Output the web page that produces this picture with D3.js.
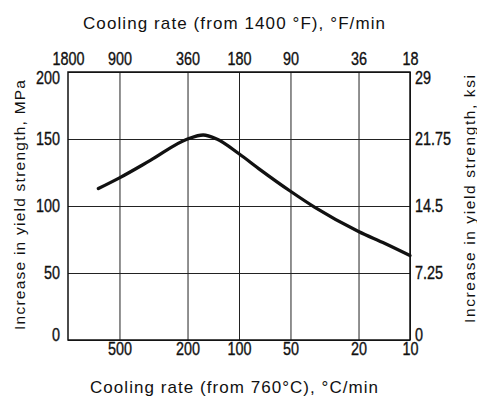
<!DOCTYPE html>
<html>
<head>
<meta charset="utf-8">
<script src="https://cdn.jsdelivr.net/npm/d3@7"></script>
<style>
  body { margin: 0; background: #fff; }
  .tick text { font-family: "Liberation Sans", Arial, sans-serif; font-size: 18px; fill: #111; stroke: #111; stroke-width: 0.35px; }
  .title { font-family: "Liberation Sans", Arial, sans-serif; font-size: 17px; fill: #111; }
  .vtitle { font-family: "Liberation Sans", Arial, sans-serif; font-size: 15.5px; fill: #111; }
</style>
</head>
<body>
<div id="chart"></div>
<script>
// cooling rate, °C/min (bottom) and increase in yield strength, MPa
const rateC = [665, 500, 330, 200, 162, 135, 100, 75, 50, 36, 20, 14, 10];
const strength = [113, 121, 134, 150, 153, 150, 139, 127, 111, 99, 81, 72, 63];

const bottomTicks = [500, 200, 100, 50, 20, 10];
const topTicks = [1800, 900, 360, 180, 90, 36, 18];
const leftTicks = [0, 50, 100, 150, 200];
const rightTicks = [0, 7.25, 14.5, 21.75, 29];

const width = 477, height = 398;
const plot = { left: 68, right: 410, top: 72, bottom: 340 };
const narrow = 0.8; // horizontal squeeze for the condensed tick font

const svg = d3.select('#chart').append('svg')
  .attr('width', width)
  .attr('height', height);

const x = d3.scaleLog().domain([1000, 10]).range([plot.left, plot.right]);
const xF = d3.scaleLog().domain([1800, 18]).range([plot.left, plot.right]);
const y = d3.scaleLinear().domain([0, 200]).range([plot.bottom, plot.top]);
const yK = d3.scaleLinear().domain([0, 29]).range([plot.bottom, plot.top]);

// labels at the ends of the vertical axes sit a little inside the frame
function nudge(v, scale) {
  const p = scale(v);
  if (p - plot.top < 6) return 6 - (p - plot.top);
  if (plot.bottom - p < 6) return -5;
  return 0;
}

// bottom axis, ticks double as vertical grid
const gx = svg.append('g')
  .attr('transform', `translate(0,${plot.bottom})`)
  .call(d3.axisBottom(x).tickValues(bottomTicks).tickFormat(d3.format('d'))
    .tickSizeInner(-(plot.bottom - plot.top)).tickSizeOuter(0).tickPadding(2));
gx.select('.domain').remove();
gx.selectAll('.tick line').attr('stroke', '#222').attr('stroke-width', 1);
gx.selectAll('.tick text').attr('transform', `scale(${narrow},1)`);

// top axis in °F, labels only
const gt = svg.append('g')
  .attr('transform', `translate(0,${plot.top})`)
  .call(d3.axisTop(xF).tickValues(topTicks).tickFormat(d3.format('d')).tickSize(0).tickPadding(7));
gt.select('.domain').remove();
gt.selectAll('.tick text').attr('transform', `scale(${narrow},1)`);

// left axis, ticks double as horizontal grid
const gy = svg.append('g')
  .attr('transform', `translate(${plot.left},0)`)
  .call(d3.axisLeft(y).tickValues(leftTicks)
    .tickSizeInner(-(plot.right - plot.left)).tickSizeOuter(0));
gy.select('.domain').remove();
gy.selectAll('.tick line').attr('stroke', '#222').attr('stroke-width', 1);
gy.selectAll('.tick text')
  .attr('x', -8 / narrow)
  .attr('y', d => nudge(d, y))
  .attr('transform', `scale(${narrow},1)`);

// right axis in ksi
const gr = svg.append('g')
  .attr('transform', `translate(${plot.right},0)`)
  .call(d3.axisRight(yK).tickValues(rightTicks).tickFormat(d => d).tickSize(0));
gr.select('.domain').remove();
gr.selectAll('.tick text')
  .attr('x', 5 / narrow)
  .attr('y', d => nudge(d, yK))
  .attr('transform', `scale(${narrow},1)`);

// frame
svg.append('rect')
  .attr('x', plot.left).attr('y', plot.top)
  .attr('width', plot.right - plot.left).attr('height', plot.bottom - plot.top)
  .attr('fill', 'none').attr('stroke', '#111').attr('stroke-width', 1.5);

// curve
const line = d3.line()
  .x((d, i) => x(rateC[i]))
  .y(d => y(d))
  .curve(d3.curveMonotoneX);

svg.append('path')
  .datum(strength)
  .attr('fill', 'none')
  .attr('stroke', '#111')
  .attr('stroke-width', 3.3)
  .attr('stroke-linecap', 'round')
  .attr('d', line);

// titles
svg.append('text').attr('class', 'title')
  .attr('x', 234).attr('y', 29)
  .attr('text-anchor', 'middle')
  .attr('textLength', 302).attr('lengthAdjust', 'spacing')
  .text('Cooling rate (from 1400 °F), °F/min');

svg.append('text').attr('class', 'title')
  .attr('x', 234).attr('y', 393)
  .attr('text-anchor', 'middle')
  .attr('textLength', 288).attr('lengthAdjust', 'spacing')
  .text('Cooling rate (from 760°C), °C/min');

svg.append('text').attr('class', 'vtitle')
  .attr('transform', 'translate(25,205) rotate(-90)')
  .attr('text-anchor', 'middle')
  .attr('textLength', 250).attr('lengthAdjust', 'spacing')
  .text('Increase in yield strength, MPa');

svg.append('text').attr('class', 'vtitle')
  .attr('transform', 'translate(475,199) rotate(-90)')
  .attr('text-anchor', 'middle')
  .attr('textLength', 248).attr('lengthAdjust', 'spacing')
  .text('Increase in yield strength, ksi');
</script>
</body>
</html>
